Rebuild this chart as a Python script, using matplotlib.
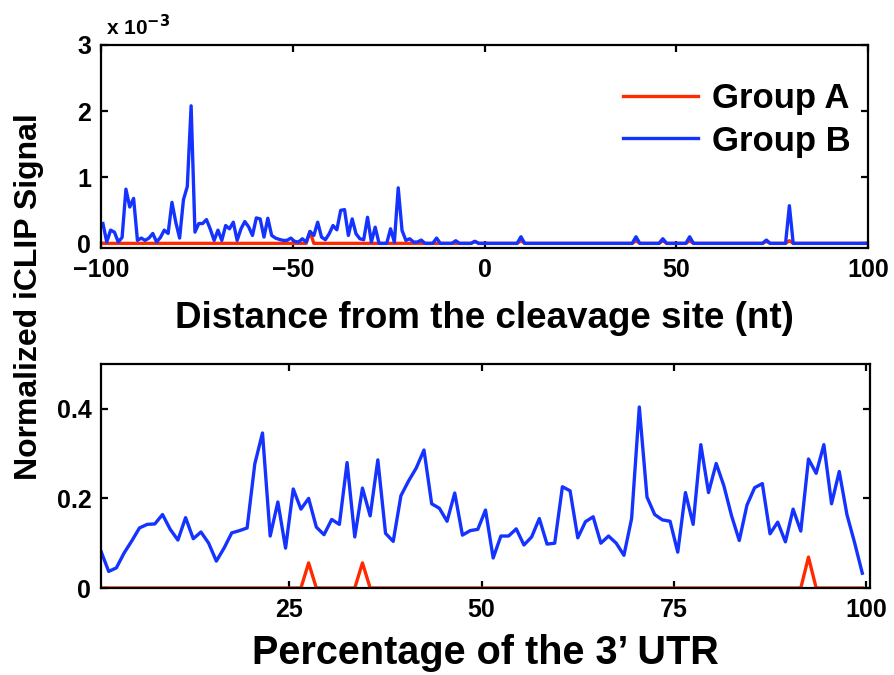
import numpy as np
import matplotlib
matplotlib.use('Agg')
import matplotlib.pyplot as plt
from matplotlib import font_manager

names = set(f.name for f in font_manager.fontManager.ttflist)
narrow = 'Liberation Sans Narrow' if 'Liberation Sans Narrow' in names else 'Liberation Sans'
plt.rcParams['font.family'] = [narrow, 'DejaVu Sans']
plt.rcParams['font.weight'] = 'bold'
plt.rcParams['axes.labelweight'] = 'bold'
wide = ['Liberation Sans', 'DejaVu Sans']

RED = '#ff2a00'
BLUE = '#1433ff'

# top panel: signal around the cleavage site, in units of 1e-3, one value per nt bin
dist_x = np.arange(-99.5, 100, 1.0)
b_head = [0.30, 0.02, 0.20, 0.17, 0.02, 0.09, 0.82, 0.55, 0.68, 0.045,
          0.08, 0.045, 0.08, 0.15, 0.02, 0.09, 0.20, 0.15, 0.62, 0.32,
          0.08, 0.66, 0.86, 2.08, 0.17, 0.30, 0.30, 0.36, 0.215, 0.045,
          0.20, 0.045, 0.27, 0.22, 0.32, 0.045, 0.22, 0.33, 0.25, 0.12,
          0.385, 0.37, 0.095, 0.38, 0.12, 0.08, 0.06, 0.045, 0.045, 0.08,
          0.03, 0.02, 0.07, 0.02, 0.18, 0.12, 0.32, 0.095, 0.055, 0.145,
          0.27, 0.205, 0.50, 0.51, 0.12, 0.37, 0.145, 0.07, 0.055, 0.395,
          0.02, 0.245, 0.0, 0.0, 0.0, 0.22, 0.02, 0.84, 0.195, 0.045,
          0.07, 0.02, 0.02]
b_blips = {83: 0.05, 87: 0.08, 92: 0.04, 97: 0.03, 109: 0.10, 139: 0.10,
           146: 0.07, 153: 0.10, 173: 0.05, 179: 0.57}
a_blips = {54: 0.18, 97: 0.03, 109: 0.04, 139: 0.04, 146: 0.04, 153: 0.04,
           173: 0.03, 179: 0.04}

dist_b = np.zeros(len(dist_x))
dist_b[:len(b_head)] = b_head
for k, v in b_blips.items():
    dist_b[k] = v
dist_a = np.zeros(len(dist_x))
for k, v in a_blips.items():
    dist_a[k] = v

# bottom panel: signal along the 3' UTR, one value per percent bin
utr_x = np.arange(0.5, 100, 1.0)
utr_b = [0.082, 0.037, 0.045, 0.078, 0.105, 0.134, 0.142, 0.143, 0.164, 0.131,
         0.107, 0.157, 0.110, 0.125, 0.100, 0.060, 0.089, 0.123, 0.128, 0.134,
         0.277, 0.346, 0.116, 0.192, 0.089, 0.221, 0.176, 0.200, 0.136, 0.119,
         0.153, 0.142, 0.280, 0.114, 0.223, 0.161, 0.286, 0.122, 0.104, 0.206,
         0.239, 0.268, 0.308, 0.188, 0.178, 0.149, 0.212, 0.118, 0.128, 0.131,
         0.174, 0.067, 0.116, 0.116, 0.132, 0.096, 0.114, 0.155, 0.098, 0.100,
         0.226, 0.217, 0.112, 0.148, 0.159, 0.100, 0.116, 0.100, 0.073, 0.155,
         0.404, 0.203, 0.164, 0.152, 0.149, 0.080, 0.213, 0.142, 0.320, 0.213,
         0.278, 0.228, 0.161, 0.106, 0.185, 0.224, 0.233, 0.121, 0.147, 0.103,
         0.176, 0.127, 0.288, 0.256, 0.320, 0.188, 0.260, 0.164, 0.101, 0.033]
utr_a = np.zeros(len(utr_x))
utr_a[27] = 0.056
utr_a[34] = 0.056
utr_a[92] = 0.069

fig = plt.figure(figsize=(8.94, 6.75), dpi=100)
ax1 = fig.add_axes([101/894, 1-248/675, 767/894, 203/675])
ax2 = fig.add_axes([101/894, 1-588/675, 769/894, 224/675])

ax1.plot(dist_x, dist_a, color=RED, lw=2.4, label='Group A')
ax1.plot(dist_x, dist_b, color=BLUE, lw=2.4, label='Group B')
ax1.set_xlim(-100, 100)
ax1.set_ylim(-0.07, 3)
ax1.set_xticks([-100, -50, 0, 50, 100])
ax1.set_yticks([0, 1, 2, 3])
ax1.set_xlabel('Distance from the cleavage site (nt)', fontsize=26.5, labelpad=14)
ax1.text(0.007, 1.03, r'x 10$^{-3}$', transform=ax1.transAxes, fontsize=15,
         ha='left', va='bottom')
ax1.legend(loc='upper right', bbox_to_anchor=(0.995, 0.885), borderaxespad=0,
           frameon=False, prop={'family': wide, 'weight': 'bold', 'size': 25},
           handlelength=2.15, handletextpad=0.4, labelspacing=0.27)

ax2.plot(utr_x, utr_a, color=RED, lw=2.4)
ax2.plot(utr_x, utr_b, color=BLUE, lw=2.4)
ax2.set_xlim(0.5, 100.5)
ax2.set_ylim(0, 0.5)
ax2.set_xticks([25, 50, 75, 100])
ax2.set_yticks([0, 0.2, 0.4])
ax2.set_yticklabels(['0', '0.2', '0.4'])
ax2.set_xlabel('Percentage of the 3\u2019 UTR', fontsize=28.5, family=wide,
               labelpad=9)

for ax in (ax1, ax2):
    for s in ax.spines.values():
        s.set_linewidth(1.6)
    ax.tick_params(direction='in', length=5, width=1.6, labelsize=18,
                   top=True, right=True, pad=7)

fig.text(29/894, 1-297/675, 'Normalized iCLIP Signal', rotation=90,
         fontsize=23, family=wide, ha='center', va='center')

fig.savefig('out.png', dpi=100)
